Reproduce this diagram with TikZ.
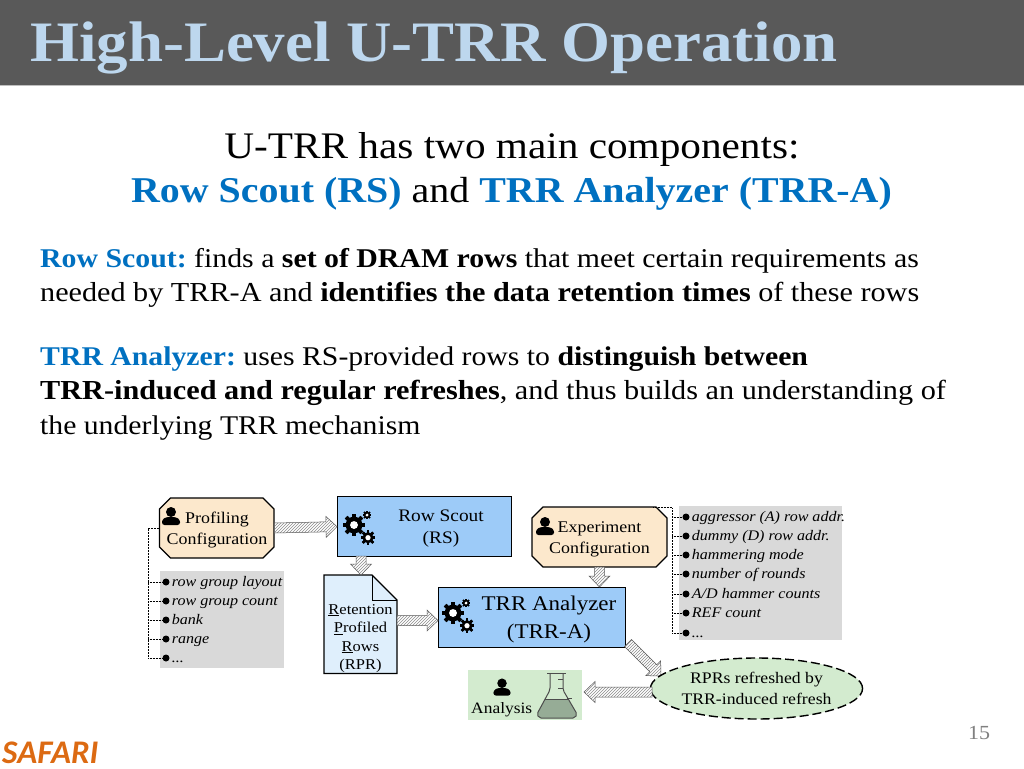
\documentclass[tikz,border=0pt]{standalone}
\usepackage{fontspec}
\setmainfont[FakeStretch=1.1]{Liberation Serif}
\newfontfamily\safarifont{Carlito}
\usepackage{xcolor}
\usetikzlibrary{calc,positioning,shapes.misc,shapes.geometric,patterns}
\definecolor{hdrgray}{HTML}{595959}
\definecolor{hdrblue}{HTML}{BDD7EE}
\definecolor{rsblue}{HTML}{0070C0}
\definecolor{boxblue}{HTML}{9DCBF8}
\definecolor{docblue}{HTML}{DFEFFC}
\definecolor{cfgtan}{HTML}{FCE8CC}
\definecolor{listgray}{HTML}{D9D9D9}
\definecolor{resgreen}{HTML}{D3EBCF}
\definecolor{flaskfill}{HTML}{96AC96}
\definecolor{safaricol}{HTML}{DC6A12}
\newcommand{\sz}[2]{\fontsize{#1}{#2}\selectfont}
\newcommand{\moreitems}{...}
\newcommand{\hatcharrow}[2]{%
  \coordinate (hb) at ($(#2)!11pt!(#1)$);
  \draw[hatch] ($(#1)!5pt!90:(hb)$) -- ($(hb)!5pt!-90:(#1)$) -- ($(hb)!10.5pt!-90:(#1)$) -- (#2)
    -- ($(hb)!10.5pt!90:(#1)$) -- ($(hb)!5pt!90:(#1)$) -- ($(#1)!5pt!-90:(hb)$) -- cycle;}
\tikzset{
  person/.pic={\fill (0,-4.5) circle (5);
    \fill[rounded corners=2.5pt] (-9,8.5) -- (-9,3) -- (-4.5,0.5) -- (4.5,0.5) -- (9,3) -- (9,8.5) -- cycle;},
  gear/.pic={\fill (0,0) circle (0.76);
    \foreach \a in {0,45,...,315}{\fill[rotate=\a] (-0.17,-1) rectangle (0.17,1);}
    \fill[white] (0,0) circle (0.36);},
}
\frenchspacing
\begin{document}
\begin{tikzpicture}[x=1pt, y=-1pt,
  hatch/.style={draw=black!65, line width=0.5pt, preaction={fill=white}, pattern=north east lines, pattern color=black!45},
  headline/.style={anchor=base west, inner sep=0pt},
  body/.style={anchor=base west, inner sep=0pt, font=\sz{#1}{30}},
  procbox/.style={draw=black, line width=1.2pt, fill=boxblue, minimum width=#1, anchor=north west, inner sep=0pt},
  cfgbox/.style={chamfered rectangle, chamfered rectangle sep=5.5pt, draw=black, line width=1.2pt, fill=cfgtan,
    minimum width=#1, minimum height=60pt, inner sep=0pt, align=center, font=\sz{16.3}{20.5}},
  cfgtxt/.style={inner sep=0pt, align=center, font=\sz{16.3}{20.5}},
  listbox/.style={fill=listgray, anchor=north west, inner sep=0pt},
  bul/.style={circle, fill=black, inner sep=0pt, minimum size=7pt},
  item/.style={right=2pt of #1, inner sep=0pt, text height=10pt, text depth=2pt, font=\sz{14.6}{16}\itshape},
  link/.style={densely dotted, line width=0.5pt},
  ]
\useasboundingbox (0,0) rectangle (1024,768);

% header
\fill[hdrgray] (0,0) rectangle (1024,85);
\draw[black!25, line width=0.7pt] (0,85.3) -- (1024,85.3);
\node[headline, text=hdrblue, font=\sz{57.2}{64}\bfseries] (title) at (30,62) {High-Level U-TRR Operation};

% intro
\node[anchor=base, inner sep=0pt, font=\sz{37.5}{44}] (intro1) at (512,158) {U-TRR has two main components:};
\node[anchor=base, inner sep=0pt, font=\sz{36.3}{44}] (intro2) at (511.5,202) {\textcolor{rsblue}{\textbf{Row Scout (RS)}} and \textcolor{rsblue}{\textbf{TRR Analyzer (TRR-A)}}};

\node[body=27.1] (rs1) at (40,267) {\textcolor{rsblue}{\textbf{Row Scout:}} finds a \textbf{set of DRAM rows} that meet certain requirements as};
\node[body=27.45] (rs2) at (40,301) {needed by TRR-A and \textbf{identifies the data retention times} of these rows};
\node[body=27.05] (ta1) at (40,365) {\textcolor{rsblue}{\textbf{TRR Analyzer:}} uses RS-provided rows to \textbf{distinguish between}};
\node[body=27.5] (ta2) at (40,399) {\textbf{TRR-induced and regular refreshes}, and thus builds an understanding of};
\node[body=27] (ta3) at (40,434) {the underlying TRR mechanism};

% grey lists
\node[listbox, minimum width=124pt, minimum height=97pt] (plist) at (160,571) {};
\node[listbox, minimum width=163pt, minimum height=134pt] (elist) at (679,506) {};

% profiling items
\coordinate (pbus) at (148,528);
\foreach \n/\y/\t in {1/582/row group layout, 2/601/row group count, 3/620/bank, 4/639/range, 5/658/\moreitems}{
  \node[bul] (pb\n) at (166,\y) {};
  \node[item=pb\n] (pt\n) {\t};
  \draw[link] (pbus|-pb\n) -- (pb\n);
}
\draw[link] (pbus|-pb5) -- (pbus);

% experiment items
\coordinate (ebus) at (672,507);
\foreach \n/\y/\t in {1/517/aggressor (A) row addr., 2/536/dummy (D) row addr., 3/555/hammering mode, 4/574/number of rounds, 5/594/{A/D hammer counts}, 6/613/REF count, 7/633/\moreitems}{
  \node[bul] (eb\n) at (686,\y) {};
  \node[item=eb\n] (et\n) {\t};
  \draw[link] (ebus|-eb\n) -- (eb\n);
}
\draw[link] (ebus|-eb7) -- (ebus);

% boxes
\node[cfgbox=114.5pt] (prof) at (216.75,528) {\phantom{Configuration}\\\phantom{Configuration}};
\node[cfgtxt] (proftxt) at (217,530) {Profiling\\Configuration};
\draw[link] (prof.west) -- (pbus);
\node[cfgbox=135pt] (exp) at (599.5,537) {\phantom{Configuration}\\\phantom{Configuration}};
\node[cfgtxt] (exptxt) at (599.5,539.5) {Experiment\\Configuration};
\coordinate (expc) at (653,507);
\draw[link] (expc) -- (ebus);
\pic at (171,516.5) {person};
\pic at (545,526.5) {person};

\node[procbox=174pt, minimum height=60pt] (rs) at (337,496) {};
\node[align=center, inner sep=0pt, font=\sz{17.6}{22}] (rstxt) at (441,529) {Row Scout\\(RS)};
\node[procbox=187pt, minimum height=60pt] (ta) at (438,587) {};
\node[align=center, inner sep=0pt, font=\sz{20.9}{28}] (tatxt) at (549,619.5) {TRR Analyzer\\(TRR-A)};

\foreach \gx/\gy in {354/525, 453/613}{
  \pic[scale=11] at (\gx,\gy) {gear};
  \pic[scale=7.3] at ($(\gx,\gy)+(14,12.7)$) {gear};
  \pic[scale=4.2] at ($(\gx,\gy)+(13,-10)$) {gear};
}

% retention profiled rows
\draw[line width=1.2pt, fill=docblue] (324,575) -- (372,575) -- (397,600) -- (397,673.5) -- (324,673.5) -- cycle;
\draw[line width=0.8pt] (372,575) -- (372,600) -- (397,600);
\node[align=center, inner sep=0pt, font=\sz{15}{18.4}] (rpr) at (360.5,638.5) {\underline{R}etention\\\underline{P}rofiled\\\underline{R}ows\\(RPR)};

% arrows
\coordinate (rsout) at (361,556);
\coordinate (rprin) at (361,575);
\coordinate (rprout) at (397,620.5);
\coordinate (exout) at (599.5,567);
\coordinate (taout) at (628,643);
\coordinate (restip) at (661,676);
\coordinate (resout) at (652,692);
\coordinate (anin) at (584,692);
\hatcharrow{prof.east}{rs.west}
\hatcharrow{rsout}{rprin}
\hatcharrow{rprout}{ta.west|-rprout}
\hatcharrow{exout}{ta.north-|exout}
\hatcharrow{taout}{restip}

% result
\node[ellipse, draw=black, line width=1.4pt, dash pattern=on 9pt off 4pt, fill=resgreen, minimum width=211pt, minimum height=61pt,
  inner sep=0pt, align=center, font=\sz{16.1}{21}] (res) at (756.5,688.5) {RPRs refreshed by\\TRR-induced refresh};
\hatcharrow{resout}{anin}

% analysis
\fill[resgreen] (468,670) rectangle (582,720);
\node[anchor=base west, inner sep=0pt, font=\sz{15.85}{20}] (antxt) at (471,713) {Analysis};
\pic[scale=0.95] at (502,687.5) {person};
\fill[flaskfill, rounded corners=2pt] (545,699) -- (537,714) -- (539,718) -- (575,718) -- (577,714) -- (568.2,699) -- cycle;
\draw[draw=black!70, line width=1pt, rounded corners=2pt] (550,673) -- (550,690) -- (537,714) -- (539,718) -- (575,718) -- (577,714) -- (563,690) -- (563,673);
\draw[draw=black!70, line width=1pt] (547,673) -- (566,673) (545,699) -- (568.2,699);
\draw[draw=black!70, line width=0.8pt] (558,679) -- (563,679) (558,688) -- (563,688) (566.5,698) -- (571.5,698);

% footer
\node[anchor=center, inner sep=0pt, text=black!50, font=\sz{20}{24}] (page) at (979,733) {15};
\node[anchor=base west, inner sep=0pt, text=safaricol, font=\safarifont\sz{33}{33}\bfseries\itshape] (safari) at (2,763) {SAFARI};
\end{tikzpicture}
\end{document}
